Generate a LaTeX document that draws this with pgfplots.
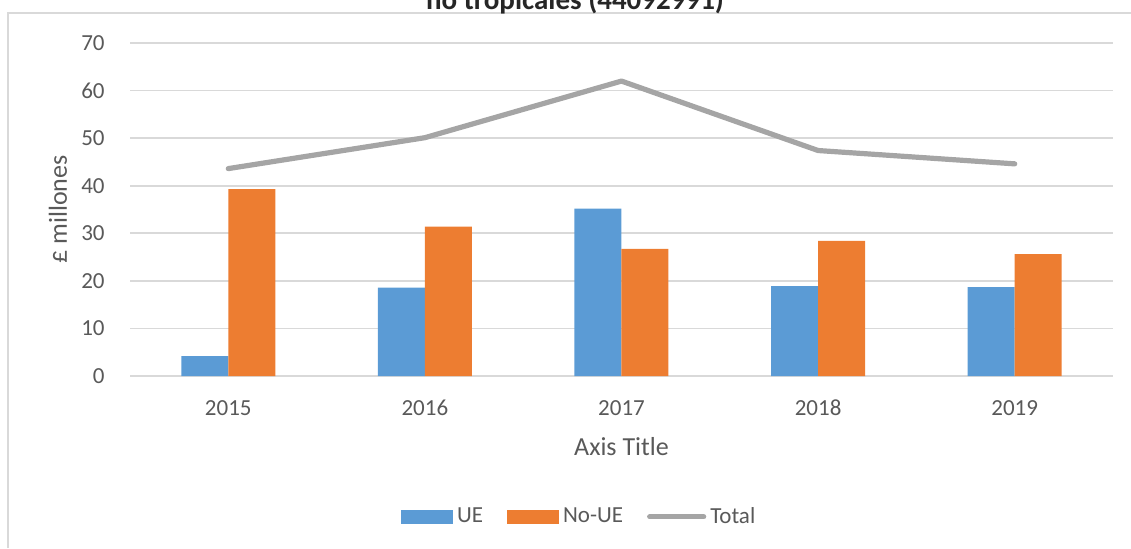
\documentclass[border=0pt]{standalone}
\usepackage{fontspec}
\setmainfont{Carlito}
\usepackage{pgfplots}
\pgfplotsset{compat=1.18}

\definecolor{ueblue}{HTML}{5B9BD5}
\definecolor{nouorange}{HTML}{ED7D31}
\definecolor{totgray}{HTML}{A5A5A5}
\definecolor{gridgray}{HTML}{D9D9D9}
\definecolor{txtgray}{HTML}{595959}

\begin{document}
\begin{tikzpicture}
\useasboundingbox (0,0) rectangle (565.5pt,-274pt);
\clip (0,0) rectangle (565.5pt,-274pt);
\draw[gridgray, line width=0.8pt] (4pt,-274pt) -- (4pt,-6.5pt) -- (565.5pt,-6.5pt);
\node[anchor=base, inner sep=0pt, font=\fontsize{14.5}{17}\selectfont\bfseries, text=black!85]
  at (287.5pt,-4.9pt) {no tropicales (44092991)};
\begin{axis}[
  at={(65pt,-188pt)}, anchor=south west,
  scale only axis,
  width=491.5pt, height=166.5pt,
  ymin=0, ymax=70,
  ytick={0,10,...,70},
  xmin=-0.5, xmax=4.5,
  xtick={0,1,2,3,4},
  xticklabels={2015,2016,2017,2018,2019},
  axis lines*=left,
  x axis line style={gridgray, line width=0.8pt},
  y axis line style={draw=none},
  major tick length=0pt,
  ymajorgrids=true,
  grid style={gridgray, line width=0.8pt},
  /pgf/number format/assume math mode=true,
  tick label style={font=\fontsize{11.5}{13}\selectfont, text=txtgray},
  yticklabel style={inner sep=0pt, xshift=-12.5pt},
  xticklabel style={inner sep=0pt, anchor=base, yshift=-19.5pt},
  xlabel={Axis Title},
  ylabel={£ millones},
  label style={font=\fontsize{13}{15}\selectfont, text=txtgray},
  xlabel style={at={(axis description cs:0.5,0)}, anchor=center, yshift=-35.5pt},
  ylabel style={at={(axis description cs:0,0.5)}, anchor=center, yshift=36pt},
  legend columns=3,
  legend style={draw=none, fill=none, at={(0.458,-0.423)}, anchor=center,
    font=\fontsize{11.5}{13}\selectfont, text=txtgray,
    /tikz/every even column/.append style={column sep=10pt},
    nodes={inner xsep=2pt}},
]
\addplot[ybar, bar width=23.5pt, bar shift=-11.75pt, fill=ueblue, draw=none,
  legend image code/.code={\fill[ueblue] (0pt,-3.5pt) rectangle (26pt,3.5pt);}]
  coordinates {(0,4.2) (1,18.6) (2,35.2) (3,18.9) (4,18.7)};
\addlegendentry{UE}
\addplot[ybar, bar width=23.5pt, bar shift=11.75pt, fill=nouorange, draw=none,
  legend image code/.code={\fill[nouorange] (0pt,-3.5pt) rectangle (26pt,3.5pt);}]
  coordinates {(0,39.3) (1,31.4) (2,26.7) (3,28.4) (4,25.6)};
\addlegendentry{No-UE}
\addplot[totgray, line width=2.6pt, line cap=round, line join=round, mark=none,
  legend image code/.code={\draw[totgray, line width=2.6pt, line cap=round] (0pt,0pt) -- (27pt,0pt);}]
  coordinates {(0,43.6) (1,50.1) (2,62.0) (3,47.4) (4,44.6)};
\addlegendentry{Total}
\end{axis}
\end{tikzpicture}
\end{document}
